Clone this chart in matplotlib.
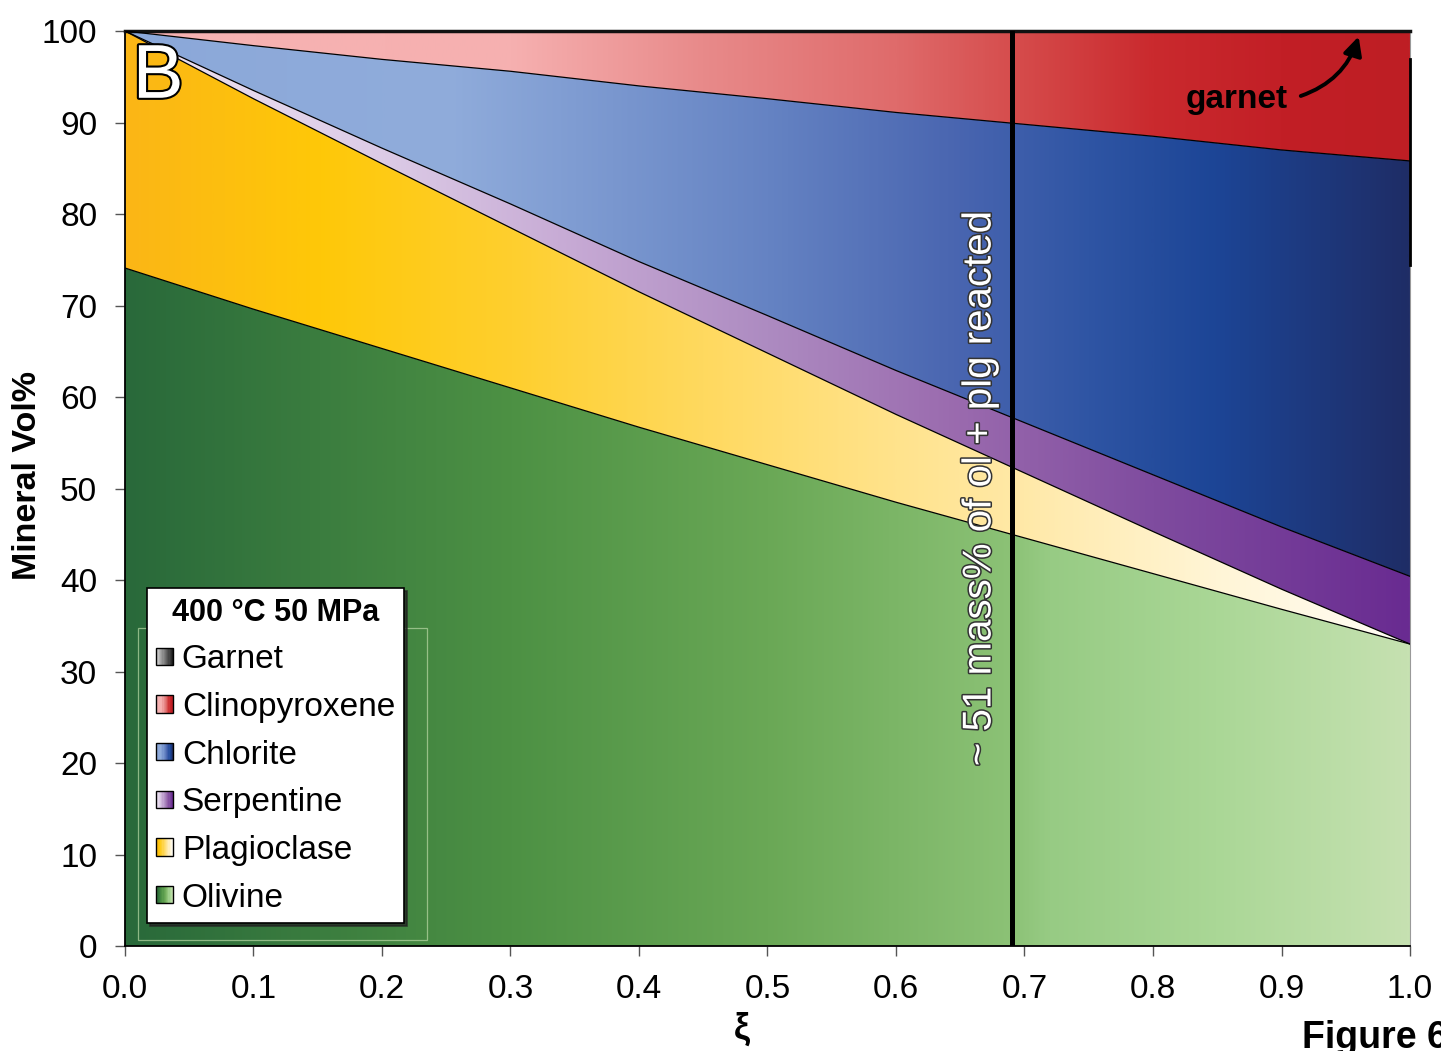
import numpy as np
import matplotlib
matplotlib.use('Agg')
import matplotlib.pyplot as plt
import matplotlib.patheffects as pe
from matplotlib.colors import LinearSegmentedColormap
from matplotlib.patches import Polygon, Rectangle
from matplotlib.legend_handler import HandlerBase

plt.rcParams['font.family'] = ['Liberation Sans', 'DejaVu Sans']

# reaction progress and mineral modes (vol%)
xi = [0.0, 0.1, 0.2, 0.3, 0.4, 0.5, 0.6, 0.7, 0.8, 0.9, 1.0]
olivine = [74.1, 69.6, 65.3, 61.0, 56.7, 52.6, 48.5, 44.6, 40.7, 36.8, 33.0]
plagioclase = [25.9, 23.0, 20.2, 17.5, 14.8, 12.2, 9.6, 7.1, 4.6, 2.2, 0.0]
serpentine = [0.0, 0.9, 1.7, 2.6, 3.3, 4.1, 4.8, 5.5, 6.2, 6.8, 7.4]
chlorite = [0.0, 4.9, 9.7, 14.5, 19.2, 23.7, 28.2, 32.6, 37.0, 41.2, 45.4]
clinopyroxene = [0.0, 1.5, 3.1, 4.4, 6.0, 7.4, 8.9, 10.2, 11.5, 12.95, 14.1]
garnet = [0.0, 0.0, 0.0, 0.0, 0.0, 0.0, 0.0, 0.0, 0.0, 0.05, 0.1]

names = ['Olivine', 'Plagioclase', 'Serpentine', 'Chlorite', 'Clinopyroxene', 'Garnet']
modes = [olivine, plagioclase, serpentine, chlorite, clinopyroxene, garnet]

ramps = {
    'Olivine': [(0.0, '#29693a'), (0.3, '#4d9144'), (0.5, '#6aa856'), (0.69, '#8cc276'),
                (0.72, '#97cb84'), (0.85, '#aad796'), (1.0, '#c6e1b1')],
    'Plagioclase': [(0.0, '#fbb616'), (0.15, '#ffc808'), (0.3, '#fecf2e'), (0.45, '#ffd95f'),
                    (0.6, '#ffe38c'), (0.7, '#ffe9a8'), (0.85, '#fff5d6'), (1.0, '#fffdf6')],
    'Serpentine': [(0.0, '#eee4f2'), (0.2, '#dccbe6'), (0.35, '#c6a9d4'), (0.5, '#ad8bc1'),
                   (0.65, '#9a6aae'), (0.8, '#7f4c9f'), (1.0, '#692b91')],
    'Chlorite': [(0.0, '#8ba8d9'), (0.25, '#90acdb'), (0.35, '#7f9cd2'), (0.5, '#6583c3'),
                 (0.65, '#4965b0'), (0.75, '#2f55a4'), (0.85, '#1c4596'), (1.0, '#1f2d66')],
    'Clinopyroxene': [(0.0, '#f6b3b3'), (0.3, '#f6b0b0'), (0.45, '#e88a8a'), (0.6, '#df6b6b'),
                      (0.7, '#d54a4a'), (0.8, '#ca2a2e'), (0.9, '#c21f26'), (1.0, '#be1e24')],
    'Garnet': [(0.0, '#d0d0d0'), (1.0, '#1c1c1c')],
}
cmaps = {k: LinearSegmentedColormap.from_list(k, v) for k, v in ramps.items()}


class Ramp:
    def __init__(self, cmap):
        self.cmap = cmap


class RampHandler(HandlerBase):
    # small square swatch filled with the layer's colour ramp
    def create_artists(self, legend, orig_handle, xdescent, ydescent, width, height, fontsize, trans):
        side = min(width, height)
        x0 = -xdescent
        y0 = -ydescent + (height - side) / 2
        n = 14
        arts = []
        for k in range(n):
            arts.append(Rectangle((x0 + k * side / n, y0), side / n + 0.3, side,
                                  facecolor=orig_handle.cmap(k / (n - 1)), edgecolor='none',
                                  transform=trans))
        arts.append(Rectangle((x0, y0), side, side, facecolor='none', edgecolor='black',
                              lw=1.0, transform=trans))
        return arts


fig = plt.figure(figsize=(14.41, 10.51), dpi=100)
ax = fig.add_axes([0.0867, 0.0999, 0.8918, 0.8706])

x = np.array(xi)
tops = np.cumsum(np.array(modes), axis=0)
base = np.zeros_like(x)
grad = np.linspace(0, 1, 512).reshape(1, -1)

for name, top in zip(names, tops):
    verts = np.concatenate([np.column_stack([x, top]), np.column_stack([x[::-1], base[::-1]])])
    clip = Polygon(verts, closed=True, transform=ax.transData)
    im = ax.imshow(grad, extent=[0, 1, 0, 100], aspect='auto', origin='lower',
                   cmap=cmaps[name], interpolation='bilinear', zorder=1)
    im.set_clip_path(clip)
    base = top

for top in tops[:-2]:
    ax.plot(x, top, color='black', lw=0.9, zorder=3)

ax.set_xlim(0, 1)
ax.set_ylim(0, 100)
ax.set_xticks(np.arange(0, 1.01, 0.1))
ax.set_xticklabels([f'{v:.1f}' for v in np.arange(0, 1.01, 0.1)])
ax.set_yticks(range(0, 101, 10))
ax.tick_params(direction='out', length=7, width=1, color='#555555', pad=13, labelsize=24)

for s in ['left', 'bottom']:
    ax.spines[s].set_color('black')
    ax.spines[s].set_linewidth(1.3)
ax.spines['top'].set_linewidth(2.5)
ax.spines['top'].set_color('#111111')
ax.spines['right'].set_color('#999999')
ax.spines['right'].set_linewidth(0.8)
ax.plot([1, 1], [74.4, 96.9], color='black', lw=2, clip_on=False, zorder=6)

ax.set_xlabel('ξ', fontsize=26, fontweight='bold', va='top')
ax.xaxis.set_label_coords(0.48, -0.072)
ax.set_ylabel('Mineral Vol%', fontsize=24.5, fontweight='bold', va='center')
ax.yaxis.set_label_coords(-0.0755, 0.514)

# reaction marker
ax.axvline(0.69, color='black', lw=3.6, zorder=4)
ax.text(0.665, 50, '~ 51 mass% of ol + plg reacted', rotation=90, ha='center', va='center',
        fontsize=29, color='white', zorder=5,
        path_effects=[pe.withStroke(linewidth=2.2, foreground='#333333')])

ax.text(0.006, 92.7, 'B', fontsize=55, color='white', ha='left', va='baseline', zorder=5,
        path_effects=[pe.withStroke(linewidth=3, foreground='black')])

ax.text(0.905, 91.6, 'garnet', fontsize=24, fontweight='bold',
        ha='right', va='baseline', zorder=5)
ax.annotate('', xy=(0.960, 99.4), xytext=(0.915, 92.9), zorder=5,
            arrowprops=dict(arrowstyle='-|>', color='black', lw=2.8, mutation_scale=28,
                            connectionstyle='arc3,rad=0.25', shrinkA=0, shrinkB=0))

ax.add_patch(Rectangle((0.0101, 0.0066), 0.2249, 0.3409, transform=ax.transAxes,
                       facecolor='none', edgecolor='#b9d8a6', lw=0.9, alpha=0.7, zorder=4))

order = ['Garnet', 'Clinopyroxene', 'Chlorite', 'Serpentine', 'Plagioclase', 'Olivine']
leg = ax.legend([Ramp(cmaps[n]) for n in order], order,
                handler_map={Ramp: RampHandler()},
                title='400 °C 50 MPa',
                title_fontproperties={'weight': 'bold', 'size': 22},
                loc='upper left', bbox_to_anchor=(0.017, 0.391), borderaxespad=0,
                fontsize=24, handlelength=0.52, handleheight=0.52, handletextpad=0.25,
                labelspacing=0.5, borderpad=0.28, fancybox=False, framealpha=1,
                edgecolor='black', shadow={'color': '#222222', 'alpha': 0.75})
leg.get_frame().set_linewidth(1.2)
leg.set_zorder(6)

fig.text(1302 / 1441, 3 / 1051, 'Figure 6', fontsize=27, fontweight='bold',
         ha='left', va='baseline')

fig.savefig('out.png', dpi=100, facecolor='white')
